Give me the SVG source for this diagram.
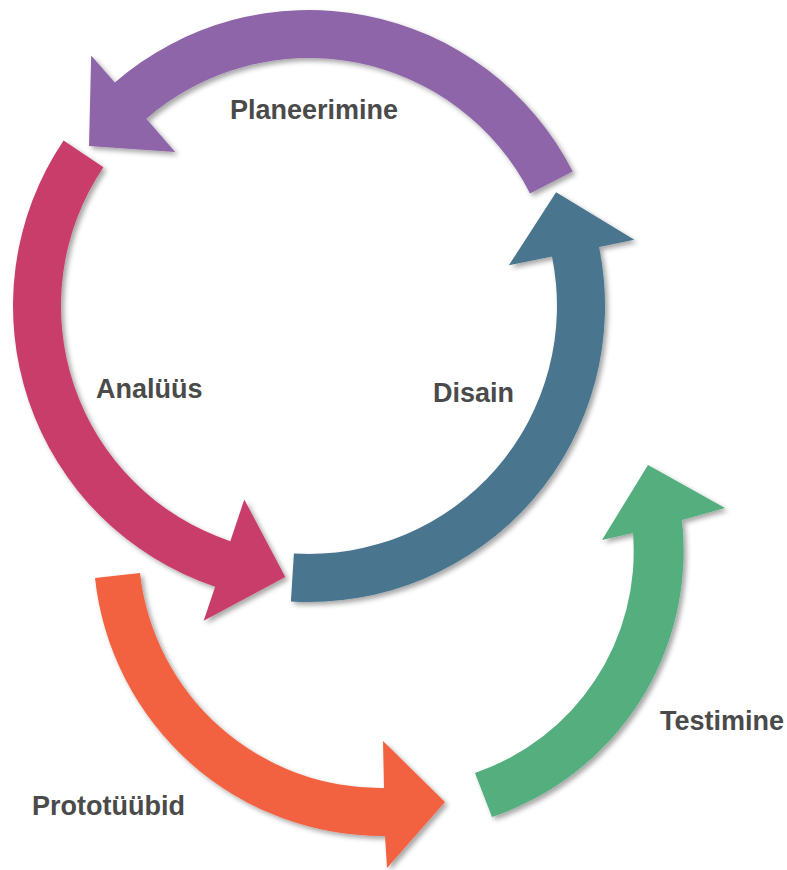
<svg xmlns="http://www.w3.org/2000/svg" width="787" height="870" viewBox="0 0 787 870">
  <defs>
    <filter id="shade" x="-10%" y="-10%" width="125%" height="125%">
      <feDropShadow dx="3" dy="3" stdDeviation="2.5" flood-color="#000" flood-opacity="0.35"/>
    </filter>
  </defs>
  <style>
    .arrow { filter: url(#shade); stroke: none; }
    .label { font-family: "Liberation Sans", Arial, sans-serif; font-weight: bold; font-size: 27px; fill: #4a4a4a; }
  </style>
  <rect width="787" height="870" fill="#ffffff"/>

  <!-- upper cycle: centre (309,306), band radii 248..296 -->
  <g id="planeerimine">
    <path class="arrow" fill="#8e65a8" d="M 572.7,171.6 A 296 296 0 0 0 114.8,82.6 L 91.2,55.4 L 89,146.1 L 175.2,152 L 146.3,118.8 A 248 248 0 0 1 530,193.4 Z"/>
    <text class="label" x="230" y="119">Planeerimine</text>
  </g>

  <g id="analyys">
    <path class="arrow" fill="#c83e6a" d="M 63.6,140.5 A 296 296 0 0 0 215.1,586.7 L 203.7,620.8 L 285.3,577 L 244.3,499.5 L 230.3,541.2 A 248 248 0 0 1 103.4,167.3 Z"/>
    <text class="label" x="96" y="398">Analüüs</text>
  </g>

  <g id="disain">
    <path class="arrow" fill="#48758e" d="M 290.9,601.4 A 296 296 0 0 0 599.1,247 L 634.3,239.8 L 556.1,192.3 L 508.9,265.3 L 552,256.5 A 248 248 0 0 1 293.9,553.5 Z"/>
    <text class="label" x="433" y="402">Disain</text>
  </g>

  <!-- lower cycle -->
  <g id="prototyybid">
    <path class="arrow" fill="#f26240" d="M 95,578 A 289 289 0 0 0 385,836 L 387,868 L 445,802 L 383,741 L 384,788 A 242 242 0 0 1 140,573 Z"/>
    <text class="label" x="32" y="815">Prototüübid</text>
  </g>

  <g id="testimine">
    <path class="arrow" fill="#54ae7d" d="M 492,817 A 281 281 0 0 0 682,520 L 725,508 L 648,465 L 602,540 L 633,533 A 234 234 0 0 1 475,773 Z"/>
    <text class="label" x="660" y="730">Testimine</text>
  </g>

  <g id="connectors"/>
</svg>
